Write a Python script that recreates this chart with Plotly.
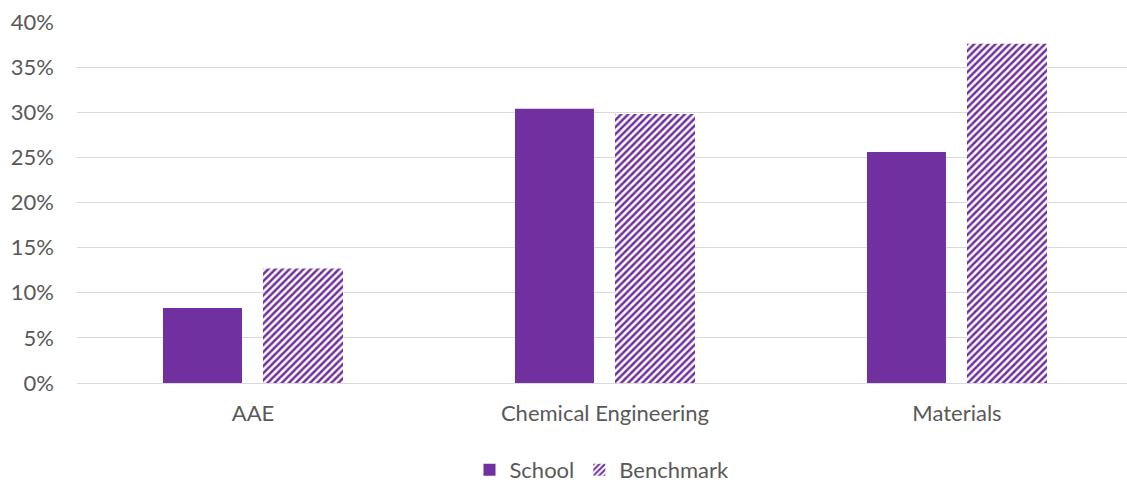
import plotly.graph_objects as go

categories = ["AAE", "Chemical Engineering", "Materials"]
school = [0.083, 0.304, 0.256]
benchmark = [0.127, 0.298, 0.376]
y_ticks = [0, 0.05, 0.10, 0.15, 0.20, 0.25, 0.30, 0.35, 0.40]
y_tick_labels = ["0%", "5%", "10%", "15%", "20%", "25%", "30%", "35%", "40%"]

purple = "#7030A0"
font_family = "Lato, Carlito, Calibri, sans-serif"
text_color = "#595959"

x_idx = list(range(len(categories)))

fig = go.Figure()
fig.add_trace(go.Bar(
    x=x_idx, y=school, name="School",
    marker=dict(color=purple, line=dict(width=0)),
    width=0.2244, offset=-0.2557,
))
fig.add_trace(go.Bar(
    x=x_idx, y=benchmark, name="Benchmark",
    marker=dict(color="white", line=dict(width=0),
                pattern=dict(shape="/", fgcolor=purple, bgcolor="white",
                             size=5, solidity=0.5, fillmode="replace",
                             fgopacity=1)),
    width=0.2273, offset=0.0284,
))

fig.update_layout(
    width=1127, height=483,
    margin=dict(l=77, r=0, t=22, b=100, autoexpand=False),
    paper_bgcolor="white", plot_bgcolor="white",
    barmode="overlay",
    font=dict(family=font_family, size=22, color=text_color),
    showlegend=True,
    legend=dict(orientation="h", x=0.5, xanchor="center", y=-0.241, yanchor="middle",
                font=dict(size=22, color=text_color), itemwidth=30,
                traceorder="normal"),
    xaxis=dict(
        range=[-0.5, 2.483], tickmode="array", tickvals=x_idx, ticktext=categories,
        showgrid=False, zeroline=False, showline=False, ticks="",
        ticklabelstandoff=15, fixedrange=True, automargin=False,
    ),
    yaxis=dict(
        range=[0, 0.40], tickmode="array", tickvals=y_ticks, ticktext=y_tick_labels,
        showgrid=True, gridcolor="#D9D9D9", gridwidth=1.3,
        zeroline=True, zerolinecolor="#D9D9D9", zerolinewidth=1.3,
        showline=False, ticks="", ticklabelstandoff=22, automargin=False,
    ),
)

fig.write_html("out.html")
